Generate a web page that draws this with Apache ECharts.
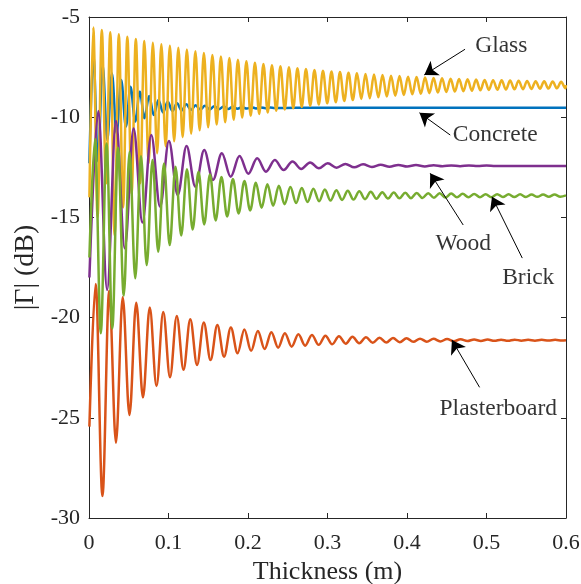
<!DOCTYPE html>
<html>
<head>
<meta charset="utf-8">
<script src="https://cdn.jsdelivr.net/npm/echarts/dist/echarts.min.js"></script>
<style>
html, body { margin: 0; padding: 0; background: #ffffff; }
#chart { width: 581px; height: 584px; }
</style>
</head>
<body>
<div id="chart"></div>
<script>
// Reflection magnitude |Γ| (dB) of single building-material slabs versus slab thickness.
// Each curve is stored as the turning points (alternating maxima and minima) of its ripple.

const xTicks = [0, 0.1, 0.2, 0.3, 0.4, 0.5, 0.6];
const yTicks = [-30, -25, -20, -15, -10, -5];

const concreteX = [0.0005, 0.0054, 0.0113, 0.0171, 0.0230, 0.0288, 0.0347, 0.0405, 0.0464, 0.0522, 0.0581,
  0.0639, 0.0698, 0.0756, 0.0815, 0.0873, 0.0932, 0.0990, 0.1049, 0.1107, 0.1166, 0.1224, 0.1283, 0.1341,
  0.1400, 0.1458, 0.1517, 0.1575, 0.1634, 0.1692, 0.1751, 0.1809, 0.1868, 0.1926, 0.1985, 0.2043, 0.2102,
  0.2160, 0.2219, 0.2277, 0.2336, 0.26, 0.6];
const concreteDb = [-12.3, -6.81, -12.2, -7.40, -11.14, -7.81, -10.8, -8.14, -10.47, -8.48, -10.22,
  -8.73, -10.05, -8.94, -9.89, -9.14, -9.76, -9.23, -9.69, -9.31, -9.66, -9.36, -9.64, -9.40,
  -9.62, -9.43, -9.61, -9.45, -9.60, -9.47, -9.59, -9.48, -9.58, -9.49, -9.57, -9.50, -9.56,
  -9.51, -9.55, -9.52, -9.54, -9.53, -9.53];

const plasterX = [0.0005, 0.0084, 0.0169, 0.0254, 0.0339, 0.0424, 0.0509, 0.0594, 0.0679, 0.0764, 0.0849,
  0.0934, 0.1019, 0.1104, 0.1189, 0.1274, 0.1359, 0.1444, 0.1529, 0.1614, 0.1699, 0.1784, 0.1869, 0.1954,
  0.2039, 0.2124, 0.2209, 0.2294, 0.2379, 0.2464, 0.2549, 0.2634, 0.2719, 0.2804, 0.2889, 0.2974, 0.3059,
  0.3144, 0.3229, 0.3314, 0.3399, 0.3484, 0.3569, 0.3654, 0.3739, 0.3824, 0.3909, 0.3994, 0.4079, 0.4164,
  0.4249, 0.4334, 0.4419, 0.4504, 0.4589, 0.4674, 0.4759, 0.4844, 0.4929, 0.5014, 0.5099, 0.5184, 0.5269,
  0.5354, 0.5439, 0.5524, 0.5609, 0.5694, 0.5779, 0.5864, 0.5949, 0.6];
const plasterDb = [-25.44, -18.32, -28.9, -18.66, -26.24, -18.99, -24.86, -19.26, -23.98, -19.50, -23.41,
  -19.72, -22.98, -19.92, -22.60, -20.08, -22.37, -20.24, -22.12, -20.37, -21.95, -20.49, -21.78, -20.59,
  -21.66, -20.67, -21.57, -20.73, -21.50, -20.78, -21.45, -20.83, -21.40, -20.87, -21.36, -20.90, -21.33,
  -20.93, -21.30, -20.96, -21.28, -20.98, -21.26, -21.00, -21.24, -21.02, -21.23, -21.03, -21.21, -21.05,
  -21.20, -21.06, -21.19, -21.07, -21.18, -21.08, -21.17, -21.09, -21.165, -21.095, -21.16, -21.10, -21.155,
  -21.10, -21.15, -21.105, -21.15, -21.11, -21.145, -21.11, -21.14, -21.13];

const glassX = [0.0005, 0.0054, 0.0108, 0.0161, 0.0215, 0.0268, 0.0322, 0.0375, 0.0429, 0.0482, 0.0536,
  0.0589, 0.0643, 0.0696, 0.0750, 0.0803, 0.0857, 0.0910, 0.0964, 0.1017, 0.1071, 0.1124, 0.1178, 0.1231,
  0.1285, 0.1338, 0.1392, 0.1445, 0.1499, 0.1552, 0.1606, 0.1659, 0.1713, 0.1766, 0.1820, 0.1873, 0.1927,
  0.1980, 0.2034, 0.2087, 0.2141, 0.2194, 0.2248, 0.2301, 0.2355, 0.2408, 0.2462, 0.2515, 0.2569, 0.2622,
  0.2676, 0.2729, 0.2783, 0.2836, 0.2890, 0.2943, 0.2997, 0.3050, 0.3104, 0.3157, 0.3211, 0.3264, 0.3318,
  0.3371, 0.3425, 0.3478, 0.3532, 0.3585, 0.3639, 0.3692, 0.3746, 0.3799, 0.3853, 0.3906, 0.3960, 0.4013,
  0.4067, 0.4120, 0.4174, 0.4227, 0.4281, 0.4334, 0.4388, 0.4441, 0.4495, 0.4548, 0.4602, 0.4655, 0.4709,
  0.4762, 0.4816, 0.4869, 0.4923, 0.4976, 0.5030, 0.5083, 0.5137, 0.5190, 0.5244, 0.5297, 0.5351, 0.5404,
  0.5458, 0.5511, 0.5565, 0.5618, 0.5672, 0.5725, 0.5779, 0.5832, 0.5886, 0.5939, 0.5993, 0.6];
const glassDb = [-14.0, -5.53, -15.0, -5.65, -13.3, -5.76, -15.9, -5.86, -14.5, -5.98, -13.8,
  -6.10, -13.3, -6.20, -12.3, -6.28, -11.8, -6.36, -11.45, -6.43, -11.2, -6.53, -11.0, -6.62,
  -10.82, -6.71, -10.65, -6.80, -10.5, -6.89, -10.37, -6.97, -10.25, -7.05, -10.13, -7.13, -10.02,
  -7.21, -9.93, -7.28, -9.84, -7.35, -9.76, -7.41, -9.68, -7.46, -9.61, -7.51, -9.55, -7.56,
  -9.49, -7.60, -9.43, -7.64, -9.37, -7.68, -9.31, -7.72, -9.25, -7.75, -9.19, -7.78, -9.14,
  -7.81, -9.09, -7.84, -9.05, -7.87, -9.01, -7.90, -8.97, -7.93, -8.93, -7.95, -8.89, -7.98,
  -8.86, -8.00, -8.83, -8.02, -8.80, -8.04, -8.77, -8.06, -8.74, -8.08, -8.72, -8.09, -8.70,
  -8.11, -8.68, -8.12, -8.66, -8.14, -8.64, -8.15, -8.63, -8.16, -8.62, -8.17, -8.61, -8.18,
  -8.60, -8.19, -8.59, -8.20, -8.58, -8.21, -8.57, -8.22, -8.56, -8.23, -8.56, -8.4];

const woodX = [0.0005, 0.0117, 0.0228, 0.0339, 0.0450, 0.0561, 0.0672, 0.0783, 0.0894, 0.1005, 0.1116,
  0.1227, 0.1338, 0.1449, 0.1560, 0.1671, 0.1782, 0.1893, 0.2004, 0.2115, 0.2226, 0.2337, 0.2448, 0.2559,
  0.2670, 0.2781, 0.2892, 0.3003, 0.3114, 0.3225, 0.3336, 0.3447, 0.3558, 0.3669, 0.3780, 0.3891, 0.4002,
  0.4113, 0.4224, 0.4335, 0.4446, 0.4557, 0.4668, 0.4779, 0.4890, 0.5001, 0.5112, 0.54, 0.6];
const woodDb = [-18.0, -9.69, -18.62, -10.19, -16.54, -10.56, -15.26, -10.89, -14.47, -11.19, -13.88,
  -11.44, -13.47, -11.64, -13.13, -11.80, -12.97, -11.94, -12.82, -12.05, -12.72, -12.14, -12.64, -12.21,
  -12.58, -12.26, -12.55, -12.30, -12.52, -12.33, -12.50, -12.35, -12.48, -12.37, -12.47, -12.38, -12.46,
  -12.39, -12.455, -12.40, -12.45, -12.405, -12.445, -12.41, -12.44, -12.415, -12.44, -12.43, -12.43];

const brickX = [0.0005, 0.0076, 0.0148, 0.0221, 0.0293, 0.0365, 0.0437, 0.0510, 0.0582, 0.0654, 0.0726,
  0.0799, 0.0871, 0.0943, 0.1015, 0.1088, 0.1160, 0.1232, 0.1304, 0.1377, 0.1449, 0.1521, 0.1593, 0.1666,
  0.1738, 0.1810, 0.1882, 0.1955, 0.2027, 0.2099, 0.2171, 0.2244, 0.2316, 0.2388, 0.2460, 0.2533, 0.2605,
  0.2677, 0.2749, 0.2822, 0.2894, 0.2966, 0.3038, 0.3111, 0.3183, 0.3255, 0.3327, 0.3400, 0.3472, 0.3544,
  0.3616, 0.3689, 0.3761, 0.3833, 0.3905, 0.3978, 0.4050, 0.4122, 0.4194, 0.4267, 0.4339, 0.4411, 0.4483,
  0.4556, 0.4628, 0.4700, 0.4772, 0.4845, 0.4917, 0.4989, 0.5061, 0.5134, 0.5206, 0.5278, 0.5350, 0.5423,
  0.5495, 0.5567, 0.5639, 0.5712, 0.5784, 0.5856, 0.5928, 0.6];
const brickDb = [-17.0, -11.09, -20.78, -11.31, -20.54, -11.52, -18.9, -11.74, -18.04, -11.95, -17.38,
  -12.14, -16.71, -12.31, -16.38, -12.47, -15.9, -12.60, -15.6, -12.72, -15.35, -12.86, -15.15, -12.98,
  -14.95, -13.08, -14.8, -13.18, -14.65, -13.27, -14.52, -13.35, -14.42, -13.42, -14.34, -13.48, -14.28,
  -13.53, -14.23, -13.57, -14.19, -13.61, -14.16, -13.64, -14.13, -13.67, -14.11, -13.70, -14.09, -13.72,
  -14.07, -13.74, -14.06, -13.76, -14.05, -13.77, -14.04, -13.78, -14.03, -13.79, -14.02, -13.80, -14.01,
  -13.81, -14.00, -13.82, -13.995, -13.83, -13.99, -13.84, -13.99, -13.84, -13.985, -13.85, -13.98, -13.85,
  -13.98, -13.86, -13.975, -13.86, -13.97, -13.86, -13.97, -13.9];

// Callouts: label text, label centre, arrow tail and arrow tip (data units)
const noteNames = ['Glass', 'Concrete', 'Wood', 'Brick', 'Plasterboard'];
const noteText = [[0.5186, -6.45], [0.511, -10.89], [0.4707, -16.32], [0.5525, -18.0], [0.5148, -24.55]];
const noteTail = [[0.473, -6.61], [0.4544, -10.89], [0.4707, -15.38], [0.545, -17.03], [0.4913, -23.48]];
const noteTip = [[0.4217, -7.89], [0.4157, -9.78], [0.4292, -12.8], [0.5069, -13.97], [0.4565, -21.12]];

const FONT = "'Liberation Serif', 'Times New Roman', serif";
const INK = '#262626';

const pairs = (xs, ys) => xs.map((x, i) => [x, ys[i]]);

function curve(name, color, xs, ys) {
  return {
    name: name,
    type: 'line',
    data: pairs(xs, ys),
    showSymbol: false,
    smooth: 0.35,
    smoothMonotone: 'x',
    lineStyle: { color: color, width: 2.5 },
    itemStyle: { color: color },
    silent: true,
    animation: false
  };
}

const axisLineStyle = { color: INK, width: 1 };
const labelStyle = { fontFamily: FONT, fontSize: 22, color: INK };

const chart = echarts.init(document.getElementById('chart'), null, { renderer: 'canvas' });

chart.setOption({
  backgroundColor: '#ffffff',
  animation: false,
  grid: { left: 89, right: 15, top: 17, bottom: 66, containLabel: false, outerBoundsMode: 'none' },
  xAxis: [
    {
      type: 'value', min: xTicks[0], max: xTicks[xTicks.length - 1], interval: 0.1,
      position: 'bottom',
      axisLine: { show: true, onZero: false, lineStyle: axisLineStyle },
      axisTick: { show: true, inside: true, length: 5, lineStyle: axisLineStyle },
      axisLabel: Object.assign({ margin: 14, formatter: v => (v === 0 ? '0' : v.toFixed(1)) }, labelStyle),
      splitLine: { show: false },
      name: 'Thickness (m)', nameLocation: 'middle', nameGap: 40,
      nameTextStyle: { fontFamily: FONT, fontSize: 26, color: INK }
    },
    {
      type: 'value', min: xTicks[0], max: xTicks[xTicks.length - 1], interval: 0.1,
      position: 'top',
      axisLine: { show: true, onZero: false, lineStyle: axisLineStyle },
      axisTick: { show: true, inside: true, length: 5, lineStyle: axisLineStyle },
      axisLabel: { show: false },
      splitLine: { show: false }
    }
  ],
  yAxis: [
    {
      type: 'value', min: yTicks[0], max: yTicks[yTicks.length - 1], interval: 5,
      position: 'left',
      axisLine: { show: true, onZero: false, lineStyle: axisLineStyle },
      axisTick: { show: true, inside: true, length: 5, lineStyle: axisLineStyle },
      axisLabel: Object.assign({ margin: 9 }, labelStyle),
      splitLine: { show: false },
      name: '|Γ| (dB)', nameLocation: 'middle', nameGap: 41, nameRotate: 90,
      nameTextStyle: { fontFamily: FONT, fontSize: 28, color: INK }
    },
    {
      type: 'value', min: yTicks[0], max: yTicks[yTicks.length - 1], interval: 5,
      position: 'right',
      axisLine: { show: true, onZero: false, lineStyle: axisLineStyle },
      axisTick: { show: true, inside: true, length: 5, lineStyle: axisLineStyle },
      axisLabel: { show: false },
      splitLine: { show: false }
    }
  ],
  series: [
    curve('Concrete', '#0072BD', concreteX, concreteDb),
    curve('Plasterboard', '#D95319', plasterX, plasterDb),
    curve('Glass', '#EDB120', glassX, glassDb),
    curve('Wood', '#7E2F8E', woodX, woodDb),
    curve('Brick', '#77AC30', brickX, brickDb),
    {
      name: 'callout arrows',
      type: 'lines',
      coordinateSystem: 'cartesian2d',
      silent: true,
      animation: false,
      symbol: ['none', 'arrow'],
      symbolSize: [10, 13],
      lineStyle: { color: '#000000', width: 1, opacity: 1, curveness: 0 },
      data: noteNames.map((n, i) => ({ name: n, coords: [noteTail[i], noteTip[i]] })),
      z: 5
    },
    {
      name: 'callout labels',
      type: 'scatter',
      silent: true,
      animation: false,
      symbolSize: 0,
      data: noteNames.map((n, i) => ({ name: n, value: noteText[i] })),
      label: {
        show: true, position: 'inside', formatter: p => p.name,
        fontFamily: FONT, fontSize: 23.5, color: '#000000'
      },
      z: 6
    }
  ]
});
</script>
</body>
</html>
